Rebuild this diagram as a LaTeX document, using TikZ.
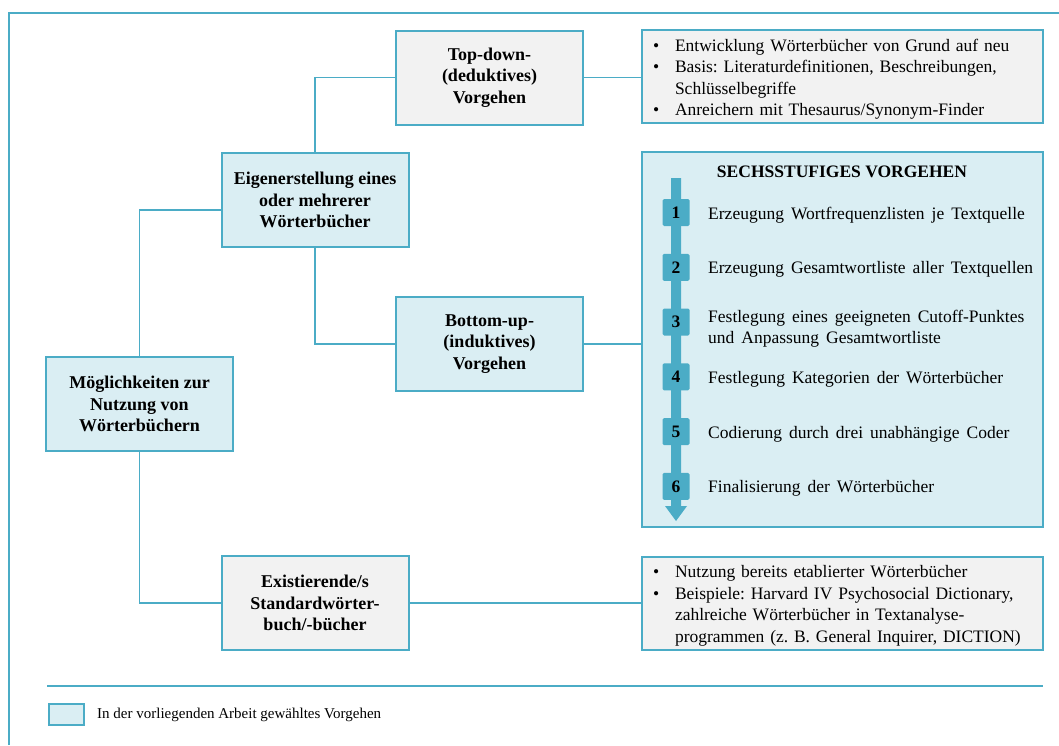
\documentclass[tikz,border=0pt]{standalone}
\usepackage{fontspec}
\setmainfont{Liberation Serif}
\definecolor{accent}{HTML}{4BACC6}
\definecolor{bluefill}{HTML}{DAEEF3}
\definecolor{grayfill}{HTML}{F2F2F2}
\frenchspacing
\newcommand\widesp{\spaceskip=7pt plus 2pt minus 1pt\relax}
\begin{document}
\begin{tikzpicture}[x=1pt,y=-1pt,
  every node/.style={font=\fontsize{17.5}{20.5}\selectfont},
  box/.style={draw=accent, line width=2pt, minimum width=187pt, minimum height=94pt,
    align=center, inner sep=0pt, font=\fontsize{18}{21.5}\selectfont\bfseries},
  bluebox/.style={box, fill=bluefill},
  graybox/.style={box, fill=grayfill},
  listbox/.style={draw=accent, line width=2pt, fill=grayfill, minimum width=401pt,
    minimum height=93pt, inner sep=0pt},
  listtext/.style={text width=379pt, inner sep=0pt, align=left,
    font=\fontsize{17.5}{21.5}\selectfont},
  seqbox/.style={draw=accent, line width=2pt, fill=bluefill, minimum width=401pt,
    minimum height=375pt, inner sep=0pt},
  numbox/.style={fill=accent, minimum size=27pt, inner sep=0pt, rounded corners=1.5pt,
    font=\fontsize{17.5}{20}\selectfont\bfseries},
  steptext/.style={anchor=base west, inner sep=0pt, font=\fontsize{17.5}{21}\selectfont},
  conn/.style={draw=accent, line width=1.8pt},
  frameline/.style={draw=accent, line width=2pt}
]
\useasboundingbox (0,0) rectangle (1059,745);
\draw[frameline] (9,745) -- (9,13) -- (1059,13);

\node[graybox] (td) at (489.5,77.5) {Top-down-\\(deduktives)\\Vorgehen};
\node[listbox] (tdl) at (842.5,76) {};
\node[listtext] (tdlt) at ([yshift=-3pt]tdl.center) {\begin{tabular}{@{}p{22pt}@{}l@{}}
\textbullet & Entwicklung Wörterbücher von Grund auf neu\\
\textbullet & Basis: Literaturdefinitionen, Beschreibungen,\\
 & Schlüsselbegriffe\\
\textbullet & Anreichern mit Thesaurus/Synonym-Finder
\end{tabular}};
\node[bluebox] (eig) at (315,200) {Eigenerstellung eines\\oder mehrerer\\Wörterbücher};
\node[seqbox] (seq) at (842.5,339.5) {};
\node[bluebox] (bu) at (489.5,344) {Bottom-up-\\(induktives)\\Vorgehen};
\node[bluebox] (mo) at (139.5,404) {Möglichkeiten zur\\Nutzung von\\Wörterbüchern};
\node[graybox] (ex) at (315,603) {Existierende/s\\Standardwörter-\\buch/-bücher};
\node[listbox] (exl) at (842.5,603.5) {};
\node[listtext] (exlt) at ([yshift=-2pt]exl.center) {\begin{tabular}{@{}p{22pt}@{}l@{}}
\textbullet & Nutzung bereits etablierter Wörterbücher\\
\textbullet & Beispiele: Harvard IV Psychosocial Dictionary,\\
 & zahlreiche Wörterbücher in Textanalyse-\\
 & programmen (z. B. General Inquirer, DICTION)
\end{tabular}};

\node[font=\fontsize{17.5}{20}\selectfont\bfseries] (title) at (842,172) {SECHSSTUFIGES VORGEHEN};
\fill[accent] (671,178) -- (681,178) -- (681,506) -- (687,506) -- (676,521) -- (665,506) -- (671,506) -- cycle;
\foreach \i/\y in {1/212.5,2/267.3,3/322,4/376.8,5/431.6,6/486.4}
  \node[numbox] (n\i) at (676,\y) {\i};
\node[steptext] (s1) at ([yshift=-6.5pt]n1.center -| 708,0) {\widesp Erzeugung Wortfrequenzlisten je Textquelle};
\node[steptext] (s2) at ([yshift=-6.5pt]n2.center -| 708,0) {\widesp Erzeugung Gesamtwortliste aller Textquellen};
\node[steptext] (s3) at (n3.center -| 708,0) {\begin{tabular}[t]{@{}l@{}}\widesp Festlegung eines geeigneten Cutoff-Punktes\\\widesp und Anpassung Gesamtwortliste\end{tabular}};
\node[steptext] (s4) at ([yshift=-6.5pt]n4.center -| 708,0) {\widesp Festlegung Kategorien der Wörterbücher};
\node[steptext] (s5) at ([yshift=-6.5pt]n5.center -| 708,0) {\widesp Codierung durch drei unabhängige Coder};
\node[steptext] (s6) at ([yshift=-6.5pt]n6.center -| 708,0) {\widesp Finalisierung der Wörterbücher};

\draw[conn] (mo.north) |- ([yshift=-10pt]eig.west);
\draw[conn] (mo.south) |- (ex.west);
\draw[conn] (eig.north) |- (td.west);
\draw[conn] (eig.south) |- (bu.west);
\draw[conn] (td.east) -- (td.east -| tdl.west);
\draw[conn] (bu.east) -- (bu.east -| seq.west);
\draw[conn] (ex.east) -- (ex.east -| exl.west);

\draw[frameline] (47,686) -- (1043,686);
\node[draw=accent, line width=2.5pt, fill=bluefill, minimum width=35pt, minimum height=21pt, inner sep=0pt] (leg) at (66.5,714.5) {};
\node[anchor=west, inner sep=0pt, font=\fontsize{15}{18}\selectfont] (legt) at (97,714.5) {In der vorliegenden Arbeit gewähltes Vorgehen};
\end{tikzpicture}
\end{document}
